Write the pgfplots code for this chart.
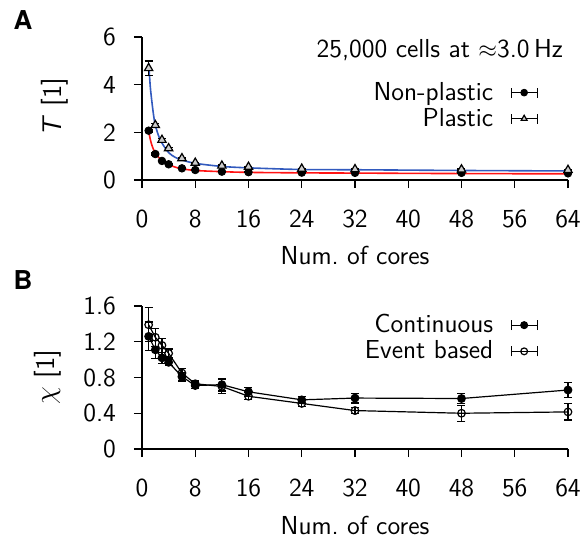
\documentclass[border=0pt]{standalone}
\usepackage{fontspec}
\usepackage{pgfplots}
\pgfplotsset{compat=1.18}
\renewcommand{\familydefault}{\sfdefault}
\newfontfamily\heros{TeX Gyre Heros}
\definecolor{fitred}{RGB}{255,20,20}
\definecolor{fitblue}{RGB}{50,90,190}

\pgfplotstableread{
x y e
1 2.07 0.06
2 1.09 0.04
3 0.80 0.03
4 0.66 0.03
6 0.49 0.02
8 0.42 0.02
12 0.35 0.02
16 0.33 0.02
24 0.31 0.02
32 0.30 0.02
48 0.30 0.02
64 0.28 0.02
}\nonplastic

\pgfplotstableread{
x y e
1 4.69 0.30
2 2.30 0.08
3 1.68 0.05
4 1.33 0.04
6 0.91 0.03
8 0.72 0.03
12 0.60 0.03
16 0.55 0.03
24 0.47 0.02
32 0.45 0.02
48 0.44 0.02
64 0.42 0.02
}\plastic

\pgfplotstableread{
x y
1 2.05
1.25 1.70
1.5 1.45
1.75 1.27
2 1.13
2.5 0.95
3 0.84
4 0.65
5 0.54
6 0.47
8 0.40
12 0.35
16 0.32
24 0.30
32 0.29
48 0.27
64 0.26
}\redfit

\pgfplotstableread{
x y
1 4.90
1.25 3.90
1.5 3.25
1.75 2.70
2 2.30
2.5 1.85
3 1.55
4 1.15
5 0.95
6 0.84
8 0.70
12 0.57
16 0.51
24 0.44
32 0.43
48 0.40
64 0.38
}\bluefit

\pgfplotstableread{
x y e
1 1.26 0.16
2 1.11 0.10
3 1.02 0.06
4 0.97 0.04
6 0.81 0.05
8 0.71 0.03
12 0.72 0.07
16 0.64 0.05
24 0.55 0.04
32 0.57 0.055
48 0.565 0.06
64 0.66 0.08
}\continuous

\pgfplotstableread{
x y e
1 1.39 0.19
2 1.25 0.10
3 1.16 0.08
4 1.07 0.05
6 0.85 0.05
8 0.73 0.03
12 0.70 0.08
16 0.59 0.04
24 0.51 0.03
32 0.43 0.03
48 0.40 0.09
64 0.415 0.09
}\eventbased

\pgfplotsset{
  myaxis/.style={
    scale only axis, width=213pt, height=71.5pt,
    xmin=0, xmax=64, xtick={0,8,...,64},
    axis x line*=bottom, axis y line*=left,
    tick align=outside, major tick length=4pt,
    tick style={black, line width=0.6pt},
    axis line style={line width=0.6pt},
    tick label style={font=\fontsize{13}{15}\selectfont},
    xticklabel style={yshift=-7.5pt},
    yticklabel style={xshift=-5.5pt},
    /pgf/number format/assume math mode=true,
    clip=false,
    legend plot pos=right,
    legend cell align=right,
    legend style={draw=none, fill=none, font=\fontsize{13}{15}\selectfont,
      row sep=-1.5pt, inner sep=0pt},
    legend image code/.code={
      \path[draw=none, fill=none] (0pt,0pt) (20pt,0pt);
      \draw[black, line width=0.6pt] (7pt,0pt) -- (20pt,0pt);
      \draw[black, line width=0.6pt] (7pt,-2.5pt) -- (7pt,2.5pt) (20pt,-2.5pt) -- (20pt,2.5pt);
      \draw[##1, mark size=1.7pt] plot coordinates {(13.5pt,0pt)};
    },
  },
  ebar/.style={error bars/.cd, y dir=both, y explicit,
    error bar style={line width=0.6pt, black},
    error mark options={rotate=90, mark size=2pt, line width=0.6pt, black}},
}

\begin{document}
\begin{tikzpicture}
\path[use as bounding box] (0,0) rectangle (293pt,-268.5pt);

\begin{axis}[myaxis, at={(71pt,-90pt)}, anchor=south west,
  ymin=0, ymax=6, ytick={0,2,4,6},
  legend style={at={(rel axis cs:0.93,0.52)}, anchor=east}]
  \addplot[fitred, line width=0.8pt, smooth, forget plot] table[x=x,y=y] {\redfit};
  \addplot[fitblue, line width=0.8pt, smooth, forget plot] table[x=x,y=y] {\bluefit};
  \addplot[black, only marks, mark=*, mark size=1.9pt, ebar] table[x=x,y=y,y error=e] {\nonplastic};
  \addlegendentry{Non-plastic}
  \addplot[black, only marks, mark=triangle*, mark size=2.4pt, mark options={fill=gray!40, line width=0.6pt}, ebar] table[x=x,y=y,y error=e] {\plastic};
  \addlegendentry{Plastic}
  \node[anchor=east, font=\fontsize{13}{15}\selectfont] at (axis cs:64.3,5.45) {25,000 cells at $\approx$3.0\,Hz};
\end{axis}

\begin{axis}[myaxis, at={(71pt,-224.5pt)}, anchor=south west,
  ymin=0, ymax=1.6, ytick={0,0.4,0.8,1.2,1.6},
  yticklabel style={/pgf/number format/.cd, fixed, precision=1},
  legend style={at={(rel axis cs:0.93,0.775)}, anchor=east}]
  \addplot[black, line width=0.6pt, mark=*, mark size=1.9pt, ebar] table[x=x,y=y,y error=e] {\continuous};
  \addlegendentry{Continuous}
  \addplot[black, line width=0.6pt, mark=o, mark size=1.9pt, mark options={fill=white}, ebar] table[x=x,y=y,y error=e] {\eventbased};
  \addlegendentry{Event based}
\end{axis}

\node[font=\heros\bfseries\fontsize{13}{15}\selectfont] at (11.5pt,-10pt) {A};
\node[font=\heros\bfseries\fontsize{13}{15}\selectfont] at (11.5pt,-140pt) {B};
\node[rotate=90, font=\fontsize{13.5}{15}\selectfont] at (27.5pt,-53.5pt) {\textsl{T} [1]};
\node[rotate=90, font=\fontsize{13.5}{15}\selectfont] at (24pt,-188.5pt) {$\chi$ [1]};
\node[font=\fontsize{13}{15}\selectfont] at (177.5pt,-127.5pt) {Num.\ of cores};
\node[font=\fontsize{13}{15}\selectfont] at (177.5pt,-262.5pt) {Num.\ of cores};
\end{tikzpicture}
\end{document}
